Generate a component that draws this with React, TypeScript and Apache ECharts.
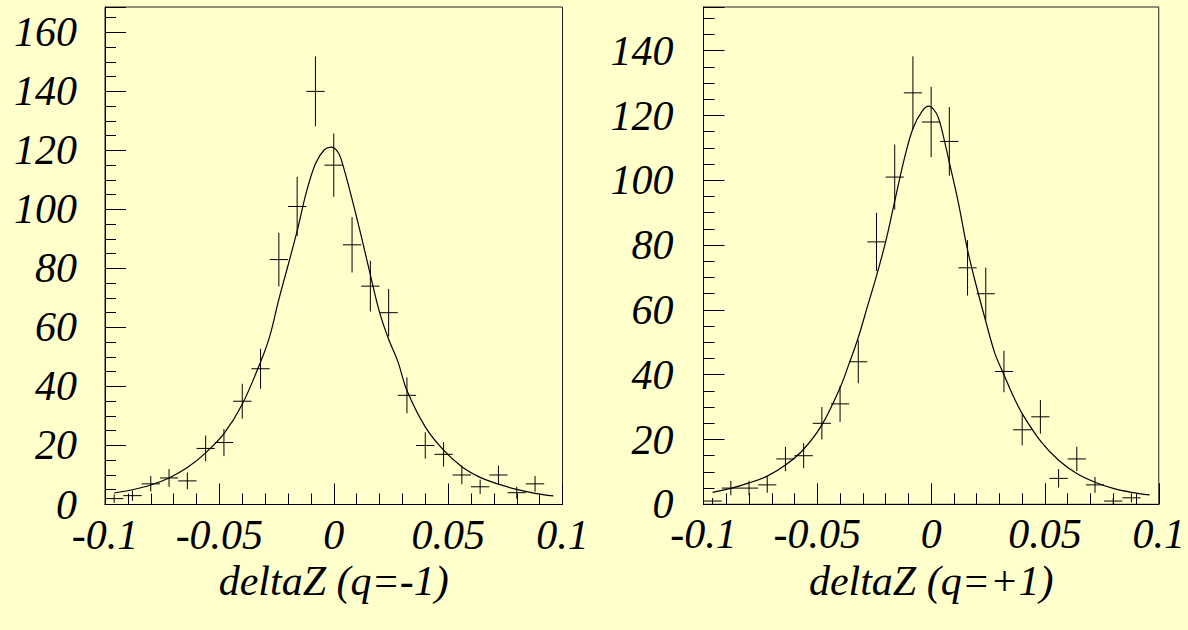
import React, { useEffect, useRef } from "react";
import * as echarts from "echarts";

// Histogram bin centres (bin width 0.008 over [-0.1, 0.1])
const binCenters = [
  -0.096, -0.088, -0.08, -0.072, -0.064, -0.056, -0.048, -0.04, -0.032, -0.024,
  -0.016, -0.008, 0, 0.008, 0.016, 0.024, 0.032, 0.04, 0.048, 0.056, 0.064,
  0.072, 0.08, 0.088, 0.096,
];
const binWidth = 0.008;

// Entries per bin, q = -1
const countsNeg = [
  2, 3, 7, 9, 8, 19, 21, 35, 46, 83, 101, 140, 115, 88, 74, 65, 37, 20, 17, 10,
  6, 10, 4, 7, null,
];
// Entries per bin, q = +1
const countsPos = [
  1, 5, 5, 6, 14, 15, 25, 31, 44, 81, 101, 127, 118, 112, 73, 65, 41, 23, 27, 8,
  14, 6, 1, 2, null,
];

// Fitted curves, sampled as [deltaZ, entries]
const fitNeg = [
  [-0.096, 3.9], [-0.088, 5.0], [-0.08, 6.6], [-0.072, 9.0], [-0.064, 12.5],
  [-0.056, 17.5], [-0.048, 24], [-0.04, 34], [-0.032, 48.3], [-0.028, 57],
  [-0.024, 69.5], [-0.02, 81], [-0.016, 92.7], [-0.012, 105.8], [-0.008, 115.5],
  [-0.004, 120.3], [-0.001, 121.1], [0.002, 119.2], [0.004, 115], [0.008, 103.5],
  [0.012, 91], [0.016, 77.8], [0.02, 65.2], [0.024, 56], [0.028, 48.5],
  [0.032, 38.6], [0.04, 26.3], [0.048, 18.4], [0.056, 12.8], [0.064, 9.2],
  [0.072, 6.9], [0.08, 5.1], [0.088, 3.8], [0.096, 2.9],
];
const fitPos = [
  [-0.096, 3.7], [-0.088, 4.9], [-0.08, 6.6], [-0.072, 8.7], [-0.064, 12.1],
  [-0.056, 17], [-0.048, 24.5], [-0.04, 36], [-0.036, 43.5], [-0.032, 51.5],
  [-0.028, 61], [-0.024, 70.5], [-0.02, 81], [-0.016, 93.5], [-0.012, 106],
  [-0.008, 116], [-0.004, 121.3], [-0.001, 122.9], [0.002, 121], [0.004, 117.5],
  [0.008, 105.5], [0.012, 93], [0.016, 78.5], [0.02, 67], [0.024, 56.5],
  [0.028, 46.6], [0.032, 40], [0.036, 33.5], [0.04, 28], [0.048, 19.6],
  [0.056, 13.6], [0.064, 9.5], [0.072, 6.8], [0.08, 4.9], [0.088, 3.7],
  [0.096, 2.9],
];

const xTitles = ["deltaZ (q=-1)", "deltaZ (q=+1)"];
const yMaxes = [168.6, 153.5];

const BG = "#ffffcc";
const INK = "#000";
const FONT = '"Liberation Serif", "Times New Roman", serif';

// Data points with Poisson errors: [x, count, sqrt(count)]
const toPoints = (counts: (number | null)[]) =>
  binCenters
    .map((x, i) => (counts[i] == null ? null : [x, counts[i], Math.sqrt(counts[i] as number)]))
    .filter((p) => p !== null);

const renderErrorCross = (params: any, api: any) => {
  const x = api.value(0);
  const v = api.value(1);
  const e = api.value(2);
  const c = api.coord([x, v]);
  const lo = api.coord([x, Math.max(0, v - e)]);
  const hi = api.coord([x, v + e]);
  const l = api.coord([x - binWidth / 2, v]);
  const r = api.coord([x + binWidth / 2, v]);
  const style = { stroke: INK, lineWidth: 1 };
  return {
    type: "group",
    children: [
      { type: "line", shape: { x1: c[0], y1: lo[1], x2: c[0], y2: hi[1] }, style },
      { type: "line", shape: { x1: l[0], y1: c[1], x2: r[0], y2: c[1] }, style },
    ],
  };
};

export default function App() {
  const ref = useRef<HTMLDivElement>(null);

  useEffect(() => {
    if (!ref.current) return;
    const chart = echarts.init(ref.current, null, { renderer: "svg" });

    const grids = [
      { left: 105, top: 7, width: 457.5, height: 497.5 },
      { left: 703.5, top: 7, width: 457.5, height: 497.3 },
    ].map((g) => ({
      ...g,
      show: true,
      borderColor: "#222",
      borderWidth: 1,
      backgroundColor: "transparent",
    }));

    const labelFont = {
      fontFamily: FONT,
      fontStyle: "italic" as const,
      fontSize: 42,
      color: INK,
    };

    const xAxes = [0, 1].map((i) => ({
      type: "value",
      gridIndex: i,
      min: -0.1,
      max: 0.1,
      interval: 0.05,
      position: "bottom",
      axisLine: { show: true, onZero: false, lineStyle: { color: INK, width: 1 } },
      axisTick: { show: true, inside: true, length: 21, lineStyle: { color: INK } },
      minorTick: { show: true, splitNumber: 5, length: 11, lineStyle: { color: INK } },
      splitLine: { show: false },
      axisLabel: { ...labelFont, margin: 9 },
      name: xTitles[i],
      nameLocation: "middle",
      nameGap: 55,
      nameTextStyle: { ...labelFont },
    }));

    const yAxes: any[] = [];
    [0, 1].forEach((i) => {
      // major ticks with labels
      yAxes.push({
        type: "value",
        gridIndex: i,
        min: 0,
        max: yMaxes[i],
        interval: 20,
        position: "left",
        axisLine: { show: true, onZero: false, lineStyle: { color: INK, width: 1 } },
        axisTick: { show: true, inside: true, length: 21, lineStyle: { color: INK } },
        splitLine: { show: false },
        axisLabel: {
          ...labelFont,
          margin: i === 0 ? 28 : 30,
          formatter: (v: number) => (Math.abs(v % 20) < 1e-6 ? String(v) : ""),
        },
      });
      // minor ticks every 5
      yAxes.push({
        type: "value",
        gridIndex: i,
        min: 0,
        max: yMaxes[i],
        interval: 5,
        position: "left",
        axisLine: { show: false, onZero: false },
        axisTick: { show: true, inside: true, length: 11, lineStyle: { color: INK } },
        splitLine: { show: false },
        axisLabel: { show: false },
      });
    });

    const series: any[] = [
      {
        type: "custom",
        xAxisIndex: 0,
        yAxisIndex: 0,
        renderItem: renderErrorCross,
        data: toPoints(countsNeg),
        clip: false,
      },
      {
        type: "line",
        xAxisIndex: 0,
        yAxisIndex: 0,
        data: fitNeg,
        smooth: 0.35,
        showSymbol: false,
        lineStyle: { color: INK, width: 1.2 },
      },
      {
        type: "custom",
        xAxisIndex: 1,
        yAxisIndex: 2,
        renderItem: renderErrorCross,
        data: toPoints(countsPos),
        clip: false,
      },
      {
        type: "line",
        xAxisIndex: 1,
        yAxisIndex: 2,
        data: fitPos,
        smooth: 0.35,
        showSymbol: false,
        lineStyle: { color: INK, width: 1.2 },
      },
    ];

    chart.setOption({
      animation: false,
      backgroundColor: BG,
      grid: grids,
      xAxis: xAxes,
      yAxis: yAxes,
      series,
    });

    return () => chart.dispose();
  }, []);

  return (
    <div
      ref={ref}
      style={{ position: "fixed", left: 0, top: 0, width: 1188, height: 630 }}
    />
  );
}
